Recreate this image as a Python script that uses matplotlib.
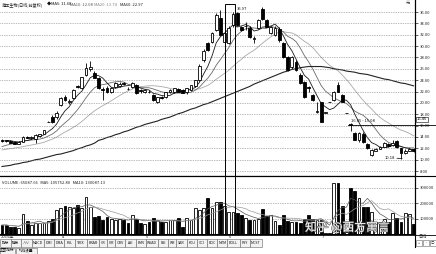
import matplotlib

matplotlib.use("Agg")
import matplotlib.pyplot as plt
import matplotlib.patheffects as pe
import numpy as np
import pandas as pd
from matplotlib.lines import Line2D
from matplotlib.patches import Rectangle

plt.rcParams["font.family"] = ["Noto Sans CJK SC", "DejaVu Sans"]

# daily candles (price)
opens = [13.5, 13.4, 13.3, 13.1, 12.8, 13.2, 14.0, 13.9, 13.7, 14.2,
         14.6, 16.65, 17.5, 17.6, 19.6, 21.0, 20.2, 20.9, 22.9, 22.6,
         24.9, 26.0, 25.3, 24.4, 22.5, 22.6, 21.9, 22.8, 23.0, 23.45,
         22.5, 22.8, 23.1, 22.2, 21.9, 22.0, 21.4, 20.2, 20.95, 21.0,
         21.9, 21.9, 22.5, 22.2, 21.9, 22.3, 23.0, 24.0, 27.5, 30.5,
         30.7, 32.8, 35.0, 30.8, 30.6, 33.7, 35.9, 33.3, 33.5, 33.2,
         31.3, 33.2, 36.6, 34.6, 32.3, 32.0, 33.0, 30.5, 28.0, 26.3,
         27.2, 24.9, 23.7, 22.8, 21.4, 18.4, 20.1, 18.26, 20.09, 20.5,
         23.2, 21.4, 18.18, 16.36, 14.7, 13.4, 14.6, 12.7, 10.8, 11.6,
         11.9, 12.3, 12.8, 12.5, 13.3, 12.0, 11.2, 11.6, 11.9]
highs = [13.6, 13.5, 13.4, 13.2, 13.3, 14.1, 14.2, 14.1, 14.5, 14.6,
         15.3, 16.75, 17.8, 18.5, 21.1, 21.3, 20.6, 22.4, 23.1, 24.6,
         27.0, 27.3, 25.6, 24.6, 22.8, 22.9, 22.8, 23.6, 23.6, 23.7,
         22.8, 23.6, 23.3, 22.4, 22.4, 22.2, 21.6, 21.1, 21.2, 22.0,
         22.4, 22.7, 22.7, 22.4, 22.7, 23.2, 24.1, 26.8, 29.4, 30.8,
         32.4, 35.8, 36.3, 32.6, 33.5, 35.97, 35.95, 33.6, 34.3, 33.5,
         31.7, 34.8, 36.8, 34.8, 33.6, 33.5, 33.3, 30.8, 28.3, 28.2,
         27.5, 25.2, 23.9, 23.0, 21.6, 20.2, 20.2, 18.26, 20.09, 22.1,
         23.7, 21.6, 18.18, 16.4, 14.9, 14.9, 14.8, 12.9, 11.8, 12.1,
         12.4, 13.1, 12.9, 13.4, 13.5, 12.1, 11.8, 12.0, 12.0]
lows = [13.2, 13.2, 12.9, 12.7, 12.7, 13.1, 13.8, 13.6, 13.0, 14.0,
        14.5, 16.6, 16.5, 17.2, 19.4, 20.3, 19.8, 20.7, 22.6, 22.4,
        24.8, 25.6, 24.3, 22.4, 20.5, 21.8, 21.7, 22.6, 22.8, 23.2,
        22.2, 22.6, 21.6, 21.8, 21.7, 21.8, 20.4, 20.0, 20.7, 20.9,
        21.8, 21.8, 21.9, 21.7, 21.6, 22.1, 22.8, 23.8, 27.2, 29.2,
        30.5, 32.6, 31.9, 30.3, 30.4, 33.4, 33.5, 32.7, 32.9, 31.5,
        30.6, 33.0, 34.6, 33.3, 32.2, 31.8, 30.8, 27.9, 25.6, 26.0,
        25.6, 23.3, 20.9, 22.0, 20.4, 18.3, 16.6, 18.26, 20.09, 20.3,
        21.9, 20.2, 18.18, 15.0, 13.4, 13.1, 13.0, 11.9, 10.6, 11.5,
        11.8, 12.2, 12.3, 12.4, 12.0, 10.18, 11.0, 11.5, 11.4]
closes = [13.3, 13.3, 13.0, 12.8, 13.2, 14.0, 13.9, 13.95, 14.3, 14.5,
          15.2, 16.72, 16.6, 18.3, 20.9, 20.5, 20.25, 22.3, 22.8, 24.5,
          26.1, 26.4, 24.4, 22.6, 22.3, 21.9, 22.6, 23.5, 23.4, 23.35,
          22.4, 23.5, 21.7, 22.1, 22.2, 21.9, 20.5, 21.0, 20.85, 21.9,
          22.3, 22.6, 22.0, 21.8, 22.6, 23.1, 24.0, 26.5, 29.2, 29.3,
          32.3, 35.5, 32.0, 32.3, 33.2, 35.6, 33.7, 32.9, 33.55, 31.6,
          31.5, 34.6, 34.7, 33.4, 33.4, 33.2, 31.0, 28.0, 25.8, 28.0,
          25.8, 23.5, 21.1, 22.6, 20.5, 18.6, 16.6, 18.26, 20.09, 21.9,
          22.0, 20.2, 18.18, 16.1, 13.5, 14.7, 13.1, 12.0, 11.7, 11.9,
          12.2, 12.9, 12.4, 13.0, 12.2, 11.2, 11.6, 11.8, 11.6]
# closes before the first visible day, estimated from where MA5/10/20 start
pre_closes = [10.6, 10.8, 10.7, 11.0, 11.2, 11.1, 11.3, 11.4, 11.4, 11.5,
              11.0, 11.2, 11.4, 11.6, 11.8, 12.6, 13.1, 13.5, 13.6]
# MA60
ma60 = [8.8, 8.9, 9.0, 9.2, 9.3, 9.5, 9.6, 9.8, 10.0, 10.1,
        10.3, 10.5, 10.7, 10.9, 11.0, 11.2, 11.4, 11.6, 11.9, 12.1,
        12.4, 12.6, 12.9, 13.4, 13.6, 13.9, 14.1, 14.4, 14.6, 14.9,
        15.1, 15.4, 15.7, 15.9, 16.2, 16.4, 16.6, 16.8, 17.1, 17.3,
        17.5, 17.8, 18.1, 18.3, 18.6, 18.9, 19.1, 19.4, 19.7, 19.9,
        20.2, 20.5, 20.8, 21.1, 21.4, 21.7, 22.0, 22.3, 22.6, 22.9,
        23.3, 23.6, 23.9, 24.2, 24.5, 24.8, 25.1, 25.4, 25.6, 25.9,
        26.0, 26.2, 26.3, 26.4, 26.4, 26.4, 26.4, 26.3, 26.2, 26.0,
        25.9, 25.8, 25.6, 25.5, 25.4, 25.2, 25.1, 25.0, 24.8, 24.6,
        24.4, 24.2, 24.1, 23.9, 23.7, 23.5, 23.4, 23.2, 23.0]
volumes = [58700, 58700, 47600, 47600, 39000, 130000, 86700, 58700, 73700, 69800,
           73700, 86700, 97800, 156500, 167600, 184600, 178000, 167600, 189000, 167600,
           243000, 178000, 109000, 117000, 91000, 109000, 97800, 91000, 97800, 91000,
           73700, 124000, 97800, 69800, 65200, 80200, 102000, 91000, 80200, 80200,
           91000, 91000, 102000, 47600, 102000, 91000, 167600, 156500, 170000, 233000,
           167600, 210700, 210700, 182600, 145400, 141500, 135000, 124000, 102000, 91000,
           91000, 97800, 161000, 117000, 124000, 86700, 58700, 124000, 84800, 80200,
           80200, 69800, 95900, 124000, 95900, 91000, 91000, 4000, 5000, 334600,
           334600, 182600, 15000, 298000, 282400, 232800, 174100, 174100, 145400, 80200,
           80200, 95900, 78000, 135000, 102000, 80200, 135000, 130000, 65088]

price_ticks = [8, 10, 12, 14, 16, 18, 20, 22, 24, 26, 28, 30, 32, 34, 36]
vol_ticks = [100000, 200000, 300000]
month_labels = ["2015年", "4", "5", "6", "7"]
month_px = [1, 62, 146, 229, 322]
tabs = ["指标", "模板", "∧∨", "MACD", "DMI", "DMA", "FSL", "TRIX", "BRAR", "CR",
        "VR", "OBV", "ASI", "EMV", "WVAD", "RSI", "WR", "SAR", "KDJ", "CCI",
        "ROC", "MTM", "BOLL", "PSY", "MCST"]

W, H = 436, 254


def fx(px):
    return px / W


def fy(py):
    return 1 - py / H


opens = np.array(opens)
highs = np.array(highs)
lows = np.array(lows)
closes = np.array(closes)
volumes = np.array(volumes, dtype=float)
n = len(closes)
idx = np.arange(n)

allc = pd.Series(list(pre_closes) + list(closes))
k = len(pre_closes)
ma5 = allc.rolling(5, min_periods=1).mean().values[k:]
ma10 = allc.rolling(10, min_periods=1).mean().values[k:]
ma20 = allc.rolling(20, min_periods=1).mean().values[k:]
vs = pd.Series(volumes)
vma5 = vs.rolling(5, min_periods=1).mean().values
vma10 = vs.rolling(10, min_periods=1).mean().values

fig = plt.figure(figsize=(W / 100, H / 100), dpi=100)
ax = fig.add_axes([0, fy(176), fx(415), fy(0) - fy(176)])
axv = fig.add_axes([0, fy(234), fx(415), fy(176) - fy(234)])

step = 4.2
xlim = (-2 / step, 413 / step)

# price panel
up = closes >= opens
ax.plot(idx, ma20, color="#a8a8a8", linewidth=0.6, zorder=1)
ax.plot(idx, ma10, color="#6a6a6a", linewidth=0.6, zorder=1)
ax.plot(idx, ma60, color="#222222", linewidth=0.8, zorder=1)
ax.plot(idx, ma5, color="#1a1a1a", linewidth=0.6, zorder=1)
ax.vlines(idx, lows, highs, color="black", linewidth=0.6, zorder=2)
body_lo = np.minimum(opens, closes)
body_h = np.maximum(np.abs(closes - opens), 0.05)
ax.bar(idx, body_h, bottom=body_lo, width=0.7,
       color=np.where(up, "white", "black"), edgecolor="black",
       linewidth=0.6, zorder=3)

ax.set_xlim(*xlim)
ax.set_ylim(36 - 164 / 5.68, 36 + 12 / 5.68)
ax.set_yticks(price_ticks)
ax.set_yticklabels([f"{t:.2f}" for t in price_ticks])
ax.yaxis.tick_right()
ax.tick_params(axis="y", labelsize=3, length=2, width=0.5, pad=1.5, colors="#222")
ax.set_xticks([])
ax.grid(axis="y", linestyle=(0, (1, 1.5)), color="#777777", linewidth=0.5)
for s in ("left", "top"):
    ax.spines[s].set_visible(False)
ax.spines["right"].set_linewidth(0.8)
ax.spines["bottom"].set_linewidth(0.8)

# title line
ax.text(fx(2) / fx(415), 1 - 5 / 176, "海王生物(日线,前复权)", transform=ax.transAxes,
        fontsize=3, color="#222", va="center", ha="left")
title_parts = [("◆MA5: 11.68", 47, "#111"), ("MA10: 12.08", 70, "#555"),
               ("MA20: 13.74", 94, "#888"), ("MA60: 22.97", 120, "#222")]
for txt, px, col in title_parts:
    ax.text(px / 415, 1 - 5 / 176, txt, transform=ax.transAxes, fontsize=3,
            color=col, va="center", ha="left")
ax.text(406 / 415, 1 - 3 / 176, "元", transform=ax.transAxes, fontsize=3,
        color="#333", va="center", ha="left")

# annotations
ax.text((237 - 2) / step, 36.5, "35.97", fontsize=3, va="center", ha="left", color="#111")
ax.text((351 - 2) / step, 16.75, "16.85 - 15.08", fontsize=3, va="center", ha="left", color="#111")
ax.text((385 - 2) / step, 10.25, "10.18", fontsize=3, va="center", ha="left", color="#111")
ax.plot([(397 - 2) / step, (402 - 2) / step], [10.25, 10.2], color="black", linewidth=0.5)
fig.add_artist(Line2D([fx(348), 1.0], [fy(125), fy(125)], color="black", linewidth=0.6))
fig.text(fx(417), fy(119.5), "16.45", fontsize=3, va="center", ha="left",
         bbox=dict(boxstyle="square,pad=0.15", fc="white", ec="black", lw=0.4))

# volume panel
axv.bar(idx, volumes, width=0.7, color=np.where(up, "white", "black"),
        edgecolor="black", linewidth=0.6, zorder=3)
axv.plot(idx, vma5, color="#555555", linewidth=0.5, zorder=4)
axv.plot(idx, vma10, color="#9a9a9a", linewidth=0.5, zorder=4)
axv.set_xlim(*xlim)
axv.set_ylim(0, 378000)
axv.set_yticks(vol_ticks)
axv.set_yticklabels([str(t) for t in vol_ticks])
axv.yaxis.tick_right()
axv.tick_params(axis="y", labelsize=3, length=2, width=0.5, pad=1.5, colors="#222")
axv.set_xticks([])
axv.grid(axis="y", linestyle=(0, (1, 1.5)), color="#777777", linewidth=0.5)
axv.spines["left"].set_visible(False)
for s in ("right", "top", "bottom"):
    axv.spines[s].set_linewidth(0.8)
axv.text(0.005, 1 - 7 / 58, "VOLUME: 65087.66   MA5: 105752.80   MA10: 130087.13",
         transform=axv.transAxes, fontsize=3, color="#222", va="center", ha="left")

# highlight box round the top candle
fig.add_artist(Rectangle((fx(225), fy(234)), fx(10), fy(4) - fy(234),
                         transform=fig.transFigure, fill=False, ec="black", lw=0.7))

# frame lines
fig.add_artist(Line2D([0, 1], [fy(176), fy(176)], color="black", linewidth=0.8))
fig.add_artist(Line2D([0, 1], [fy(235), fy(235)], color="black", linewidth=0.6))
fig.add_artist(Line2D([fx(415), fx(415)], [fy(247), fy(0)], color="black", linewidth=0.8))

# dates
for lab, px in zip(month_labels, month_px):
    fig.text(fx(px), fy(237.5), lab, fontsize=3, va="center", ha="left", color="#222")
fig.text(fx(418), fy(237.5), "日线", fontsize=3, va="center", ha="left", color="#222")

# tabs
widths = [4 + (3.2 if any(ord(c) > 255 for c in t) else 2.0) * len(t) for t in tabs]
scale = 262 / sum(widths)
x0 = 0.0
for t, w in zip(tabs, widths):
    w = w * scale
    fig.add_artist(Rectangle((fx(x0), fy(246.5)), fx(w), fy(239.5) - fy(246.5),
                             transform=fig.transFigure, fc="#f2f2f2", ec="#666", lw=0.4))
    fig.text(fx(x0 + w / 2), fy(243), t, fontsize=2.6, va="center", ha="center", color="#111")
    x0 += w
for t, a, b in [("主图指标", 0, 15), ("均线设置", 16, 37)]:
    fig.add_artist(Rectangle((fx(a), fy(253.5)), fx(b - a), fy(247.5) - fy(253.5),
                             transform=fig.transFigure, fc="#f2f2f2", ec="#666", lw=0.4))
    fig.text(fx((a + b) / 2), fy(250.5), t, fontsize=2.6, va="center", ha="center", color="#111")
for t, a in [("+", 416), ("-", 423), ("○", 430)]:
    fig.add_artist(Rectangle((fx(a), fy(246)), fx(6), fy(240) - fy(246),
                             transform=fig.transFigure, fc="white", ec="#666", lw=0.4))
    fig.text(fx(a + 3), fy(243), t, fontsize=2.6, va="center", ha="center", color="#111")

# watermark
fig.text(fx(305), fy(227.5), "知乎 @西方寓言", fontsize=8.5, color="white", va="center",
         ha="left", path_effects=[pe.withStroke(linewidth=0.8, foreground="#555555")])

fig.savefig("out.png", dpi=100)
